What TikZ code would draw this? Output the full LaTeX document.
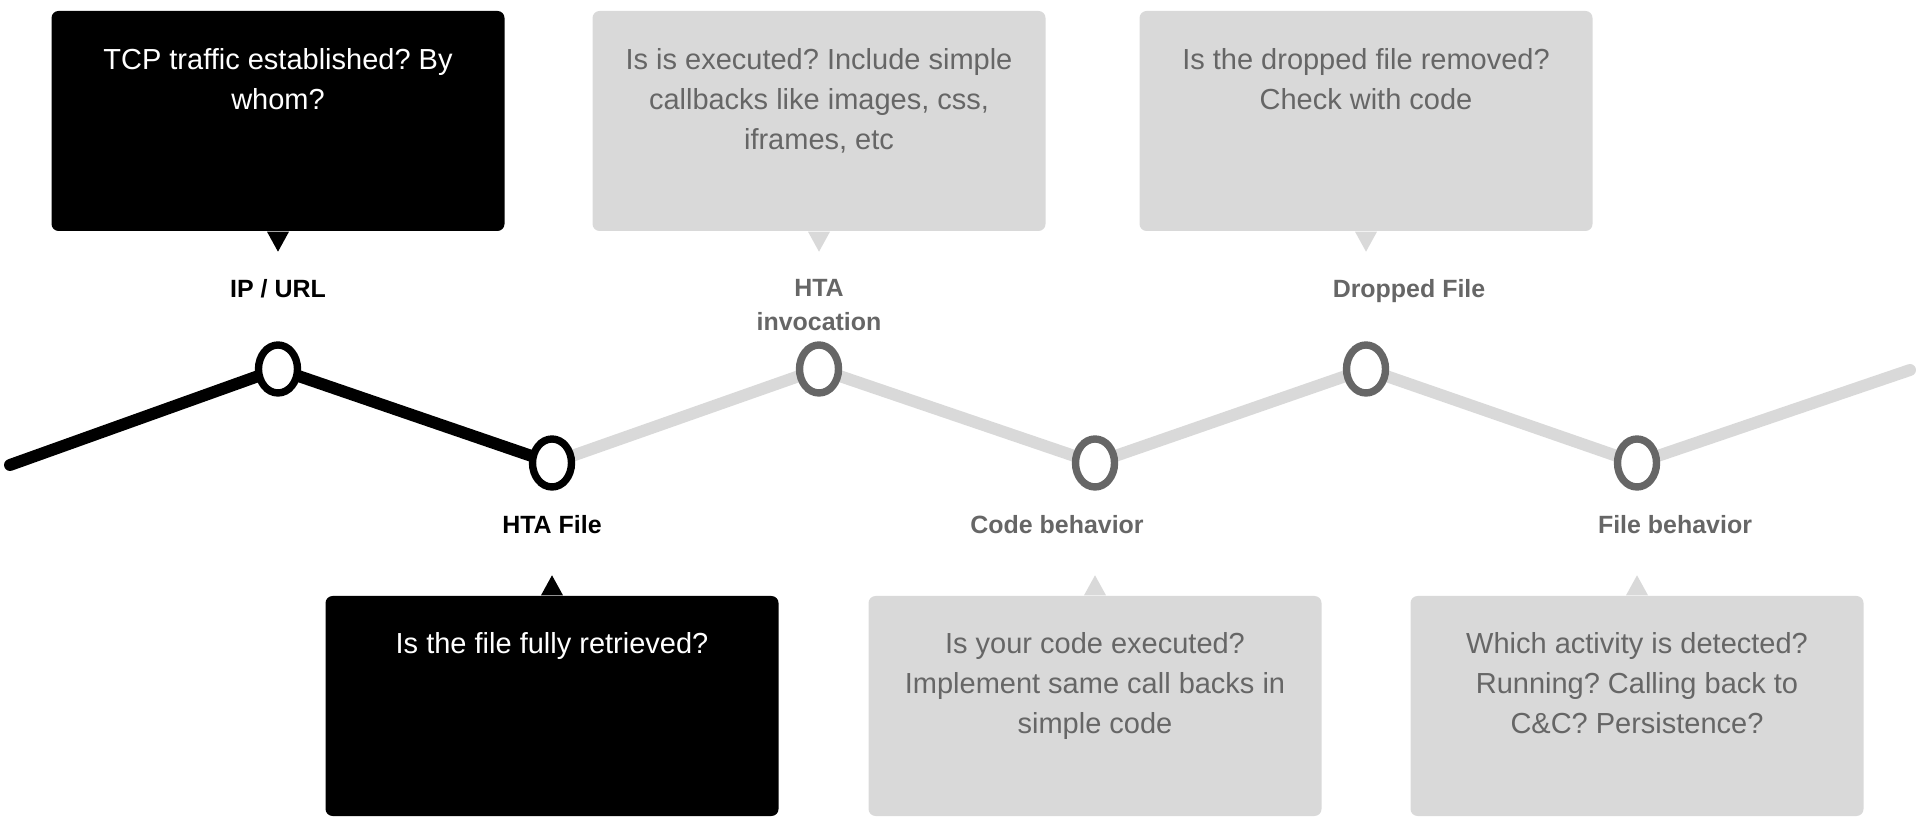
\documentclass[tikz,border=0pt]{standalone}
\usepackage{fontspec}
\setmainfont{Liberation Sans}
\usepackage{tikz}
\usetikzlibrary{shapes.geometric,positioning,backgrounds}
\definecolor{cardgray}{HTML}{D9D9D9}
\definecolor{textgray}{HTML}{666666}
\frenchspacing

\begin{document}
\begin{tikzpicture}[
    card/.style={rectangle, rounded corners=2pt, minimum width=4.53cm, minimum height=2.2cm, inner sep=0pt},
    darkcard/.style={card, fill=black},
    lightcard/.style={card, fill=cardgray},
    cardtext/.style={align=center, inner sep=0pt, font=\fontsize{8.25}{11.4}\selectfont},
    stage/.style={ellipse, line width=2.1pt, fill=white, minimum width=0.39cm, minimum height=0.48cm, inner sep=0pt},
    stagelbl/.style={align=center, inner sep=0pt, anchor=north, font=\fontsize{7.1}{9.7}\selectfont\bfseries},
    track/.style={line width=3.4pt, line cap=round, line join=round},
]
\useasboundingbox (0,0) rectangle (19.2,8.17);

% stages on the zigzag
\coordinate (lstart) at (0.10,3.52);
\node[stage, draw=black] (ipurl) at (2.78,4.48) {};
\node[stage, draw=black] (htafile) at (5.52,3.54) {};
\node[stage, draw=textgray] (htainv) at (8.19,4.48) {};
\node[stage, draw=textgray] (codebeh) at (10.95,3.54) {};
\node[stage, draw=textgray] (dropped) at (13.66,4.48) {};
\node[stage, draw=textgray] (filebeh) at (16.37,3.54) {};
\coordinate (lend) at (19.10,4.47);

\begin{scope}[on background layer]
\draw[track, black] (lstart) -- (ipurl.center) -- (htafile.center);
\draw[track, cardgray] (htafile.center) -- (htainv.center) -- (codebeh.center) -- (dropped.center) -- (filebeh.center) -- (lend);
\end{scope}

% stage names
\node[stagelbl] (ipname) at (2.78,5.38) {IP / URL};
\node[stagelbl, text=textgray] (invname) at (8.19,5.38) {HTA\\invocation};
\node[stagelbl, text=textgray] (dropname) at (14.09,5.38) {Dropped File};
\node[stagelbl] (filename) at (5.52,3.02) {HTA File};
\node[stagelbl, text=textgray] (codename) at (10.57,3.02) {Code behavior};
\node[stagelbl, text=textgray] (behname) at (16.75,3.02) {File behavior};

% question cards, top row
\node[darkcard] (ipbox) at (2.78,6.96) {};
\node[lightcard] (invbox) at (8.19,6.96) {};
\node[lightcard] (dropbox) at (13.66,6.96) {};
\fill[black] ([xshift=-0.11cm]ipbox.south) -- ([yshift=-0.2cm]ipbox.south) -- ([xshift=0.11cm]ipbox.south) -- cycle;
\fill[cardgray] ([xshift=-0.11cm]invbox.south) -- ([yshift=-0.2cm]invbox.south) -- ([xshift=0.11cm]invbox.south) -- cycle;
\fill[cardgray] ([xshift=-0.11cm]dropbox.south) -- ([yshift=-0.2cm]dropbox.south) -- ([xshift=0.11cm]dropbox.south) -- cycle;
\node[cardtext, text=white, below=0.37cm of ipbox.north] (iptext) {TCP traffic established? By\\whom?};
\node[cardtext, text=textgray, below=0.37cm of invbox.north] (invtext) {Is is executed? Include simple\\callbacks like images, css,\\iframes, etc};
\node[cardtext, text=textgray, below=0.37cm of dropbox.north] (droptext) {Is the dropped file removed?\\Check with code};

% question cards, bottom row
\node[darkcard] (filebox) at (5.52,1.11) {};
\node[lightcard] (codebox) at (10.95,1.11) {};
\node[lightcard] (behbox) at (16.37,1.11) {};
\fill[black] ([xshift=-0.11cm]filebox.north) -- ([yshift=0.2cm]filebox.north) -- ([xshift=0.11cm]filebox.north) -- cycle;
\fill[cardgray] ([xshift=-0.11cm]codebox.north) -- ([yshift=0.2cm]codebox.north) -- ([xshift=0.11cm]codebox.north) -- cycle;
\fill[cardgray] ([xshift=-0.11cm]behbox.north) -- ([yshift=0.2cm]behbox.north) -- ([xshift=0.11cm]behbox.north) -- cycle;
\node[cardtext, text=white, below=0.36cm of filebox.north] (filetext) {Is the file fully retrieved?};
\node[cardtext, text=textgray, below=0.36cm of codebox.north] (codetext) {Is your code executed?\\Implement same call backs in\\simple code};
\node[cardtext, text=textgray, below=0.36cm of behbox.north] (behtext) {Which activity is detected?\\Running? Calling back to\\C\&C? Persistence?};
\end{tikzpicture}
\end{document}
